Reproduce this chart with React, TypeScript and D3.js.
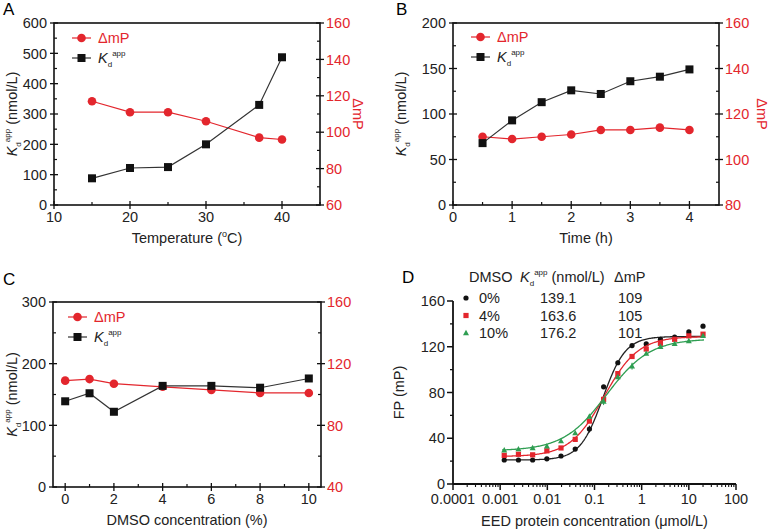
import React from 'react';
import * as d3 from 'd3';

// Panel A: temperature
const tempA = [15, 20, 25, 30, 37, 40];
const kdA = [88, 122, 125, 200, 330, 487];
const dmpA = [117, 111, 111, 106, 97, 96];

// Panel B: time
const timeB = [0.5, 1, 1.5, 2, 2.5, 3, 3.5, 4];
const kdB = [68, 93, 113, 126, 122, 136, 141, 149];
const dmpB = [110, 109, 110, 111, 113, 113, 114, 113];

// Panel C: DMSO
const dmsoC = [0, 1, 2, 4, 6, 8, 10];
const kdC = [139, 152, 122, 164, 164, 161, 176];
const dmpC = [109, 110, 107, 105, 103, 101, 101];

// Panel D: binding curves
const concD = [0.00122, 0.00244, 0.00488, 0.00977, 0.0195, 0.039, 0.078, 0.156, 0.3125, 0.625, 1.25, 2.5, 5, 10, 20];
const fp0 = [21, 21, 21, 22, 24.5, 30.5, 48, 85, 106, 121, 122.5, 126.5, 128.5, 133, 138];
const fp4 = [25, 26, 25.5, 29, 31.5, 39, 55, 74, 96.5, 111.5, 118, 123, 126.5, 129.5, 131];
const fp10 = [29.5, 30.5, 31.5, 33, 37.5, 44.5, 59, 72, 93.5, 103, 114, 120, 122.5, 125, 129.5];
const err0 = [0, 0, 0, 0, 0, 1, 3, 1, 2, 1, 0, 1, 1, 1, 0];
const err4 = [0, 0, 0, 1, 0, 1, 1, 3, 1, 1, 1, 1, 0, 1, 0];
const err10 = [0, 0, 0, 1, 0, 0, 1, 3, 1, 3, 1, 1, 1, 0, 0];
// fitted 4PL: bottom, top, EC50 (µmol/L), hill
const fit0 = [21, 129, 0.15, 1.8];
const fit4 = [24, 129, 0.16, 1.2];
const fit10 = [29, 127, 0.18, 0.95];
const dmsoLabels = ['0%', '4%', '10%'];
const kdLabels = ['139.1', '163.6', '176.2'];
const dmpLabels = ['109', '105', '101'];

const RED = '#e3262d';
const GREEN = '#2f9e52';
const FONT = 'Liberation Sans, Arial, sans-serif';
const FS = 14.5;

const KdText = ({ unit = true }: { unit?: boolean }) => (
  <>
    <tspan fontStyle="italic">K</tspan>
    <tspan fontSize={8} dy={4}>d</tspan>
    <tspan fontSize={8} dy={-11}>app</tspan>
    <tspan dy={7}>{unit ? ' (nmol/L)' : ''}</tspan>
  </>
);

const range = (a: number, b: number, s: number) => d3.range(a, b + s / 2, s);

type PanelProps = {
  x0: number; y0: number; w: number; h: number;
  letter: string; lx: number; ly: number;
  xDom: number[]; xMajor: number[]; xMinor: number[];
  lDom: number[]; lMajor: number[]; lMinor: number[];
  rDom: number[]; rMajor: number[]; rMinor: number[];
  xs: number[]; kd: number[]; dmp: number[];
  xTitle: React.ReactNode; yTitleX: number; rTitleX?: number;
  legX: number; legY: number;
};

function DualPanel(p: PanelProps) {
  const x = d3.scaleLinear().domain(p.xDom).range([p.x0, p.x0 + p.w]);
  const yl = d3.scaleLinear().domain(p.lDom).range([p.y0 + p.h, p.y0]);
  const yr = d3.scaleLinear().domain(p.rDom).range([p.y0 + p.h, p.y0]);
  const kdLine = d3.line<number>().x((_, i) => x(p.xs[i])).y((d) => yl(d));
  const dmpLine = d3.line<number>().x((_, i) => x(p.xs[i])).y((d) => yr(d));
  const bottom = p.y0 + p.h;
  const right = p.x0 + p.w;
  return (
    <g fontFamily={FONT} fontSize={FS}>
      <text x={p.lx} y={p.ly} fontSize={17}>{p.letter}</text>
      <rect x={p.x0} y={p.y0} width={p.w} height={p.h} fill="none" stroke="#111" strokeWidth={1.6} />
      {/* bottom axis */}
      {p.xMajor.map((t) => (
        <g key={'xm' + t}>
          <line x1={x(t)} x2={x(t)} y1={bottom - 4} y2={bottom + 4} stroke="#111" strokeWidth={1.3} />
          <text x={x(t)} y={bottom + 17} textAnchor="middle" fill="#222">{t}</text>
        </g>
      ))}
      {p.xMinor.map((t) => (
        <line key={'xn' + t} x1={x(t)} x2={x(t)} y1={bottom - 3} y2={bottom} stroke="#111" strokeWidth={1.2} />
      ))}
      {/* left axis */}
      {p.lMajor.map((t) => (
        <g key={'lm' + t}>
          <line x1={p.x0 - 4} x2={p.x0 + 4} y1={yl(t)} y2={yl(t)} stroke="#111" strokeWidth={1.3} />
          <text x={p.x0 - 7} y={yl(t)} dy="0.36em" textAnchor="end" fill="#222">{t}</text>
        </g>
      ))}
      {p.lMinor.map((t) => (
        <line key={'ln' + t} x1={p.x0} x2={p.x0 + 3} y1={yl(t)} y2={yl(t)} stroke="#111" strokeWidth={1.2} />
      ))}
      {/* right axis */}
      {p.rMajor.map((t) => (
        <g key={'rm' + t}>
          <line x1={right - 4} x2={right + 4} y1={yr(t)} y2={yr(t)} stroke="#111" strokeWidth={1.3} />
          <text x={right + 6} y={yr(t)} dy="0.36em" fill={RED}>{t}</text>
        </g>
      ))}
      {p.rMinor.map((t) => (
        <line key={'rn' + t} x1={right - 3} x2={right} y1={yr(t)} y2={yr(t)} stroke="#111" strokeWidth={1.2} />
      ))}
      {/* titles */}
      <text x={p.x0 + p.w / 2} y={bottom + 38} textAnchor="middle" fill="#222">{p.xTitle}</text>
      <text transform={`translate(${p.yTitleX},${p.y0 + p.h / 2}) rotate(-90)`} textAnchor="middle" dy="0.35em" fill="#222">
        <KdText />
      </text>
      {p.rTitleX !== undefined && (
        <text transform={`translate(${p.rTitleX},${p.y0 + p.h / 2}) rotate(90)`} textAnchor="middle" dy="0.35em" fill={RED}>ΔmP</text>
      )}
      {/* series */}
      <path d={dmpLine(p.dmp) || ''} fill="none" stroke={RED} strokeWidth={1.2} />
      <path d={kdLine(p.kd) || ''} fill="none" stroke="#333" strokeWidth={1.2} />
      {p.dmp.map((d, i) => (
        <circle key={'c' + i} cx={x(p.xs[i])} cy={yr(d)} r={4.3} fill={RED} />
      ))}
      {p.kd.map((d, i) => (
        <rect key={'s' + i} x={x(p.xs[i]) - 4} y={yl(d) - 4} width={8} height={8} fill="#111" />
      ))}
      {/* legend */}
      <line x1={p.legX} x2={p.legX + 19} y1={p.legY} y2={p.legY} stroke={RED} strokeWidth={1.2} />
      <circle cx={p.legX + 9.5} cy={p.legY} r={4.3} fill={RED} />
      <text x={p.legX + 26} y={p.legY} dy="0.36em" fill={RED}>ΔmP</text>
      <line x1={p.legX} x2={p.legX + 19} y1={p.legY + 20} y2={p.legY + 20} stroke="#333" strokeWidth={1.2} />
      <rect x={p.legX + 5.5} y={p.legY + 16} width={8} height={8} fill="#111" />
      <text x={p.legX + 26} y={p.legY + 20} dy="0.36em" fill="#222"><KdText unit={false} /></text>
    </g>
  );
}

function PanelD() {
  const x0 = 453, y0 = 301, w = 283, h = 183;
  const x = d3.scaleLog().domain([1e-4, 100]).range([x0, x0 + w]);
  const y = d3.scaleLinear().domain([0, 160]).range([y0 + h, y0]);
  const bottom = y0 + h;
  const xMajor = [1e-4, 1e-3, 1e-2, 0.1, 1, 10, 100];
  const xLab = ['0.0001', '0.001', '0.01', '0.1', '1', '10', '100'];
  const xMinor = d3.range(-4, 2).flatMap((e) => d3.range(2, 10).map((m) => m * Math.pow(10, e)));
  const yMajor = [0, 40, 80, 120, 160];
  const yMinor = [20, 60, 100, 140];
  const samples = d3.range(0, 201).map((i) => Math.pow(10, Math.log10(0.0011) + (i / 200) * (Math.log10(21) - Math.log10(0.0011))));
  const curve = (f: number[]) =>
    d3.line<number>().x((c) => x(c)).y((c) => y(f[0] + (f[1] - f[0]) / (1 + Math.pow(f[2] / c, f[3]))))(samples) || '';
  const sets = [
    { fp: fp0, err: err0, fit: fit0, color: '#111', shape: 'circle' },
    { fp: fp4, err: err4, fit: fit4, color: RED, shape: 'square' },
    { fp: fp10, err: err10, fit: fit10, color: GREEN, shape: 'tri' },
  ];
  const marker = (shape: string, cx: number, cy: number, color: string, key: string) =>
    shape === 'circle' ? (
      <circle key={key} cx={cx} cy={cy} r={2.6} fill={color} />
    ) : shape === 'square' ? (
      <rect key={key} x={cx - 2.6} y={cy - 2.6} width={5.2} height={5.2} fill={color} />
    ) : (
      <path key={key} d={`M${cx},${cy - 3.2}L${cx + 3},${cy + 2.2}L${cx - 3},${cy + 2.2}Z`} fill={color} />
    );
  return (
    <g fontFamily={FONT} fontSize={FS}>
      <text x={402} y={283} fontSize={17}>D</text>
      <line x1={x0} x2={x0} y1={y0} y2={bottom} stroke="#111" strokeWidth={1.8} />
      <line x1={x0} x2={x0 + w} y1={bottom} y2={bottom} stroke="#111" strokeWidth={1.8} />
      {yMajor.map((t) => (
        <g key={'ym' + t}>
          <line x1={x0 - 6} x2={x0} y1={y(t)} y2={y(t)} stroke="#111" strokeWidth={1.5} />
          <text x={x0 - 8} y={y(t)} dy="0.36em" textAnchor="end" fill="#222">{t}</text>
        </g>
      ))}
      {yMinor.map((t) => (
        <line key={'yn' + t} x1={x0 - 3} x2={x0} y1={y(t)} y2={y(t)} stroke="#111" strokeWidth={1.3} />
      ))}
      {xMajor.map((t, i) => (
        <g key={'xm' + i}>
          <line x1={x(t)} x2={x(t)} y1={bottom} y2={bottom + 6} stroke="#111" strokeWidth={1.5} />
          <text x={x(t)} y={bottom + 20} textAnchor="middle" fill="#222">{xLab[i]}</text>
        </g>
      ))}
      {xMinor.map((t, i) => (
        <line key={'xn' + i} x1={x(t)} x2={x(t)} y1={bottom} y2={bottom + 3} stroke="#111" strokeWidth={1.1} />
      ))}
      <text x={x0 + w / 2} y={bottom + 42} textAnchor="middle" fill="#222">EED protein concentration (μmol/L)</text>
      <text transform={`translate(399,${y0 + h / 2}) rotate(-90)`} textAnchor="middle" dy="0.35em" fill="#222">FP (mP)</text>
      {sets.map((s, k) => (
        <g key={'set' + k}>
          <path d={curve(s.fit)} fill="none" stroke={s.color === '#111' ? '#222' : s.color} strokeWidth={1.3} />
          {s.fp.map((v, i) =>
            s.err[i] > 0 ? (
              <line key={'e' + i} x1={x(concD[i])} x2={x(concD[i])} y1={y(v - s.err[i])} y2={y(v + s.err[i])} stroke={s.color} strokeWidth={1} />
            ) : null
          )}
          {s.fp.map((v, i) => marker(s.shape, x(concD[i]), y(v), s.color, 'm' + i))}
        </g>
      ))}
      {/* legend table */}
      <text x={469} y={277} dy="0.36em" fill="#222">DMSO</text>
      <text x={520} y={277} dy="0.36em" fill="#222"><KdText /></text>
      <text x={614} y={277} dy="0.36em" fill="#222">ΔmP</text>
      {sets.map((s, k) => (
        <g key={'lg' + k}>
          {marker(s.shape, 466, 298 + k * 17.5, s.color, 'lm' + k)}
          <text x={479} y={298 + k * 17.5} dy="0.36em" fill="#222">{dmsoLabels[k]}</text>
          <text x={540} y={298 + k * 17.5} dy="0.36em" fill="#222">{kdLabels[k]}</text>
          <text x={618} y={298 + k * 17.5} dy="0.36em" fill="#222">{dmpLabels[k]}</text>
        </g>
      ))}
    </g>
  );
}

const TempTitle = () => (
  <>
    Temperature (<tspan fontSize={9} dy={-6}>o</tspan><tspan dy={6}>C)</tspan>
  </>
);

export default function App() {
  return (
    <svg width={769} height={531} style={{ position: 'absolute', left: 0, top: 0, background: '#fff' }}>
      <DualPanel
        x0={54} y0={23} w={266} h={182} letter="A" lx={3} ly={15}
        xDom={[10, 45]} xMajor={[10, 20, 30, 40]} xMinor={[15, 25, 35, 45]}
        lDom={[0, 600]} lMajor={range(0, 600, 100)} lMinor={range(50, 550, 100)}
        rDom={[60, 160]} rMajor={range(60, 160, 20)} rMinor={range(70, 150, 20)}
        xs={tempA} kd={kdA} dmp={dmpA}
        xTitle={<TempTitle />} yTitleX={12} rTitleX={358}
        legX={72} legY={38}
      />
      <DualPanel
        x0={453} y0={23} w={266} h={182} letter="B" lx={396} ly={15}
        xDom={[0, 4.5]} xMajor={[0, 1, 2, 3, 4]} xMinor={[0.5, 1.5, 2.5, 3.5]}
        lDom={[0, 200]} lMajor={range(0, 200, 50)} lMinor={range(25, 175, 50)}
        rDom={[80, 160]} rMajor={range(80, 160, 20)} rMinor={range(90, 150, 20)}
        xs={timeB} kd={kdB} dmp={dmpB}
        xTitle="Time (h)" yTitleX={401} rTitleX={762}
        legX={471} legY={37}
      />
      <DualPanel
        x0={53} y0={302} w={268} h={185} letter="C" lx={3} ly={285}
        xDom={[-0.5, 10.5]} xMajor={[0, 2, 4, 6, 8, 10]} xMinor={[1, 3, 5, 7, 9]}
        lDom={[0, 300]} lMajor={range(0, 300, 100)} lMinor={range(50, 250, 100)}
        rDom={[40, 160]} rMajor={range(40, 160, 40)} rMinor={range(60, 140, 40)}
        xs={dmsoC} kd={kdC} dmp={dmpC}
        xTitle="DMSO concentration (%)" yTitleX={12}
        legX={68} legY={317}
      />
      <PanelD />
    </svg>
  );
}
